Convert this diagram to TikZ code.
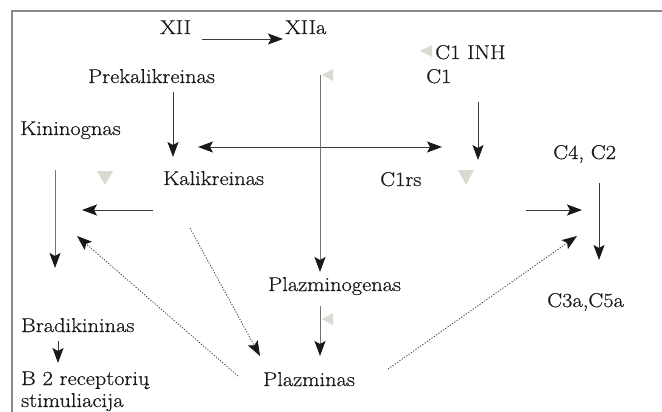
\documentclass[tikz,border=0pt]{standalone}
\usepackage{fontspec}
\setmainfont[FakeStretch=1.12,FakeBold=0.6]{Latin Modern Roman}
\usetikzlibrary{arrows.meta}
\definecolor{framegray}{HTML}{8A8A8A}
\definecolor{markgray}{HTML}{DADAD2}
\definecolor{linegray}{HTML}{3A3A3A}
\begin{document}
\begin{tikzpicture}[x=1pt,y=-1pt,
  lbl/.style={anchor=base west,inner sep=0,font=\fontsize{20}{24}\selectfont,text=black!90},
  tip/.style={},
  conn/.style={draw=linegray,line width=0.9pt,-{Stealth[length=15pt,width=11pt,inset=3pt,color=black!90]}},
  dotconn/.style={conn,line width=0.8pt,dash pattern=on 1.2pt off 1.6pt},
  graytri/.style={fill=markgray,draw=none}]
\useasboundingbox (0,0) rectangle (662,412);
\draw[framegray,line width=1.6pt] (662,11) -- (12,11) -- (12,412);

% labels
\node[lbl] (xii)   at (160,34)  {XII};
\node[lbl] (xiia)  at (285,34)  {XIIa};
\node[lbl] (prek)  at (88,83)   {Prekalikreinas};
\node[lbl] (kinin) at (20,135)  {Kininognas};
\node[lbl] (kalik) at (163,185) {Kalikreinas};
\node[lbl] (c1inh) at (435,59)  {C1 INH};
\node[lbl] (c1)    at (426,83)  {C1};
\node[lbl] (c1rs)  at (380,186) {C1rs};
\node[lbl] (c4c2)  at (553,159) {C4, C2};
\node[lbl] (plazg) at (268,291) {Plazminogenas};
\node[lbl] (plazm) at (263,386) {Plazminas};
\node[lbl] (c3a)   at (547,307) {C3a,C5a};
\node[lbl] (bradi) at (21,332)  {Bradikininas};
\node[lbl] (b2)    at (21,385)  {B 2 receptorių};
\node[lbl] (stim)  at (21,407)  {stimuliacija};

% connector end points
\coordinate (a1s) at (202,39);  \coordinate (a1e) at (283,39);
\coordinate (a2s) at (173,92);  \coordinate (a2e) at (173,157);
\coordinate (a3s) at (198,147); \coordinate (a3e) at (442,147);
\coordinate (a4s) at (320,75);  \coordinate (a4e) at (320,272);
\coordinate (a5s) at (478,102); \coordinate (a5e) at (478,160);
\coordinate (a6s) at (599,183); \coordinate (a6e) at (599,260);
\coordinate (a7s) at (55,170);  \coordinate (a7e) at (55,268);
\coordinate (a8s) at (153,210); \coordinate (a8e) at (82,210);
\coordinate (a9s) at (526,210); \coordinate (a9e) at (582,210);
\coordinate (a10s) at (320,306); \coordinate (a10e) at (320,356);
\coordinate (a11s) at (58,341);  \coordinate (a11e) at (58,363);
\coordinate (d1s) at (238,376); \coordinate (d1e) at (77,236);
\coordinate (d2s) at (190,228); \coordinate (d2e) at (260,356);
\coordinate (d3s) at (388,369); \coordinate (d3e) at (577,236);

% gray markers
\fill[graytri] (97,171) -- (113,171) -- (105,185) -- cycle;
\fill[graytri] (458,170) -- (474,170) -- (466,185) -- cycle;
\fill[graytri] (322,75) -- (333,69) -- (333,81) -- cycle;
\fill[graytri] (322,319) -- (333,313) -- (333,325) -- cycle;
\fill[graytri] (420,51) -- (432,45) -- (432,57) -- cycle;

% connectors
\draw[conn] (a1s) -- (a1e);
\draw[conn] (a2s) -- (a2e);
\draw[conn,{Stealth[length=15pt,width=11pt,inset=3pt,color=black!90]}-{Stealth[length=15pt,width=11pt,inset=3pt,color=black!90]}] (a3s) -- (a3e);
\draw[conn,draw=black!55] (a4s) -- (a4e);
\draw[conn] (a5s) -- (a5e);
\draw[conn] (a6s) -- (a6e);
\draw[conn,draw=black!55] (a7s) -- (a7e);
\draw[conn] (a8s) -- (a8e);
\draw[conn] (a9s) -- (a9e);
\draw[conn,draw=black!55] (a10s) -- (a10e);
\draw[conn] (a11s) -- (a11e);
\draw[dotconn] (d1s) -- (d1e);
\draw[dotconn] (d2s) -- (d2e);
\draw[dotconn] (d3s) -- (d3e);
\end{tikzpicture}
\end{document}
